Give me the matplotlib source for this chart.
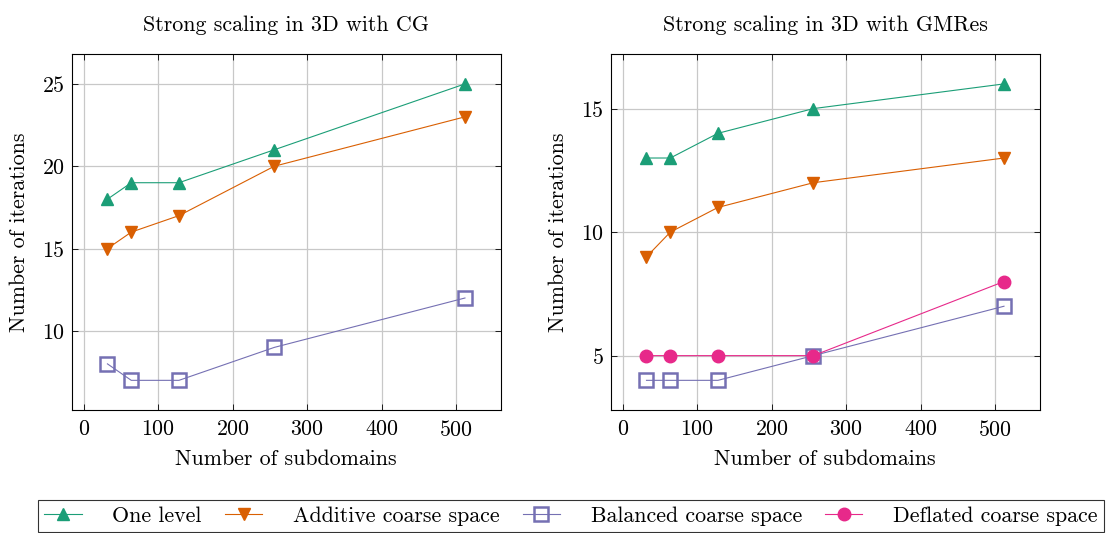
import numpy as np
from matplotlib import pyplot as plt
from matplotlib.lines import Line2D

plt.rcParams['font.family'] = 'cmr10'
plt.rcParams['axes.formatter.use_mathtext'] = True
plt.rcParams['mathtext.fontset'] = 'cm'

subdomains = [32, 64, 128, 256, 512]

# CG
cg_one = [18, 19, 19, 21, 25]
cg_additive = [15, 16, 17, 20, 23]
cg_balanced = [8, 7, 7, 9, 12]

# GMRes
gm_one = [13, 13, 14, 15, 16]
gm_additive = [9, 10, 11, 12, 13]
gm_balanced = [4, 4, 4, 5, 7]
gm_deflated = [5, 5, 5, 5, 8]

labels = ["One level", "Additive coarse space", "Balanced coarse space", "Deflated coarse space"]
colors = ["#1b9e77", "#d95f02", "#7570b3", "#e7298a"]
styles = [dict(marker="^", markersize=8),
          dict(marker="v", markersize=8),
          dict(marker="s", markersize=10, markerfacecolor="none", markeredgewidth=1.8),
          dict(marker="o", markersize=9)]

fs = 15.8
fig = plt.figure(figsize=(11.08, 5.33), dpi=100)
ax1 = fig.add_axes([0.0647, 0.2308, 0.3872, 0.6674])
ax2 = fig.add_axes([0.5512, 0.2308, 0.3872, 0.6674])


def draw(ax, series, title, ylim, yticks):
    for i, ys in enumerate(series):
        ax.plot(subdomains, ys, color=colors[i], linewidth=0.8, **styles[i])
    ax.set_xlim(-16, 560)
    ax.set_ylim(*ylim)
    ax.set_xticks([0, 100, 200, 300, 400, 500])
    ax.set_yticks(yticks)
    ax.grid(True, color="#c8c8c8", linewidth=0.9)
    ax.set_axisbelow(True)
    ax.tick_params(axis="x", pad=7)
    ax.tick_params(direction="in", top=True, right=True, labelsize=fs, length=4, width=0.6)
    ax.tick_params(axis="y", pad=5)
    for sp in ax.spines.values():
        sp.set_linewidth(0.8)
    ax.set_xlabel("Number of subdomains", fontsize=fs, labelpad=7)
    ax.set_ylabel("Number of iterations", fontsize=fs, labelpad=9)
    ax.set_title(title, fontsize=fs, pad=17)


draw(ax1, [cg_one, cg_additive, cg_balanced], "Strong scaling in 3D with CG", (5.2, 26.8), [10, 15, 20, 25])
draw(ax2, [gm_one, gm_additive, gm_balanced, gm_deflated], "Strong scaling in 3D with GMRes", (2.8, 17.2), [5, 10, 15])

handles = [Line2D([], [], color=colors[i], linewidth=0.8, **styles[i]) for i in range(4)]
leg = fig.legend(handles, labels, loc="upper center", bbox_to_anchor=(0.5153, 0.0625), ncol=4,
                 fontsize=fs, frameon=True, fancybox=False, edgecolor="black",
                 handlelength=1.7, columnspacing=1.05, borderpad=0.3, handletextpad=1.4,
                 borderaxespad=0)
leg.get_frame().set_linewidth(0.8)

fig.savefig("out.png", dpi=100)
